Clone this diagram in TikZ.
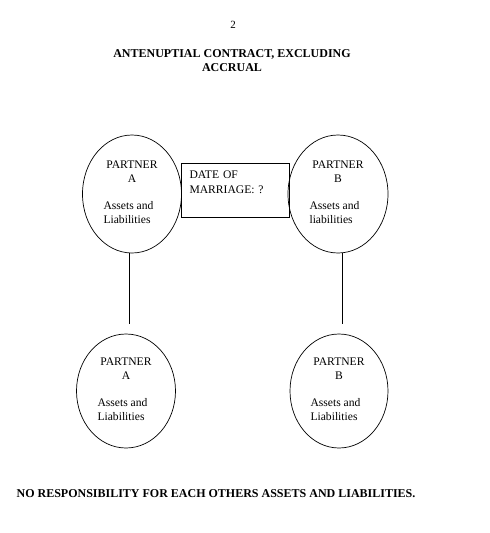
\documentclass[tikz,border=0pt]{standalone}
\usepackage{fontspec}
\setmainfont{Liberation Serif}
\usetikzlibrary{shapes.geometric}
\usetikzlibrary{positioning}

\newcommand{\assetlines}[1]{\begin{tabular}[t]{@{}l@{}}Assets and\\#1\end{tabular}\hspace*{7pt}}

\begin{document}
\begin{tikzpicture}[x=1pt, y=-1pt,
	partner/.style={draw, ellipse, line width=0.7pt, inner sep=0pt, align=center, font=\fontsize{11.6}{14}\selectfont},
	datebox/.style={draw, rectangle, line width=0.8pt, minimum width=108pt, minimum height=54pt, text width=91pt, inner xsep=8pt, align=left, font=\fontsize{11.6}{15}\selectfont},
	heading/.style={align=center, font=\fontsize{12}{14}\selectfont\bfseries}]
	\useasboundingbox (0,0) rectangle (490,533);
	
	% Seitenzahl und Titel
	\node[anchor=base, font=\fontsize{11}{13}\selectfont] (pagenum) at (233,28) {2};
	\node[heading, anchor=base] (title) at (232,71) {ANTENUPTIAL CONTRACT, EXCLUDING\\ACCRUAL};
	
	% Partner oben
	\node[partner, minimum width=99pt, minimum height=118pt] (pa1) at (132,194) {PARTNER\\A\\[13pt]\assetlines{Liabilities}};
	\node[partner, minimum width=100pt, minimum height=118pt] (pb1) at (338,194) {PARTNER\\B\\[13pt]\assetlines{liabilities}};
	
	% Datum
	\node[datebox] (date) at (235,190) {DATE OF\\MARRIAGE: ?\\\mbox{}};
	
	% Partner unten
	\node[partner, minimum width=99pt, minimum height=114pt] (pa2) at (126,391) {PARTNER\\A\\[13pt]\assetlines{Liabilities}};
	\node[partner, minimum width=98pt, minimum height=114pt] (pb2) at (339,391) {PARTNER\\B\\[13pt]\assetlines{Liabilities}};
	
	% Verbindungen
	\draw[line width=0.8pt, shorten >=10pt] ([xshift=-3pt]pa1.south) -- ([xshift=-3pt]pa1.south |- pa2.north);
	\draw[line width=0.8pt, shorten >=10pt] ([xshift=4pt]pb1.south) -- ([xshift=4pt]pb1.south |- pb2.north);
	
	% Fazit
	\node[heading, anchor=base] (note) at (216,497) {NO RESPONSIBILITY FOR EACH OTHERS ASSETS AND LIABILITIES.};
\end{tikzpicture}
\end{document}
